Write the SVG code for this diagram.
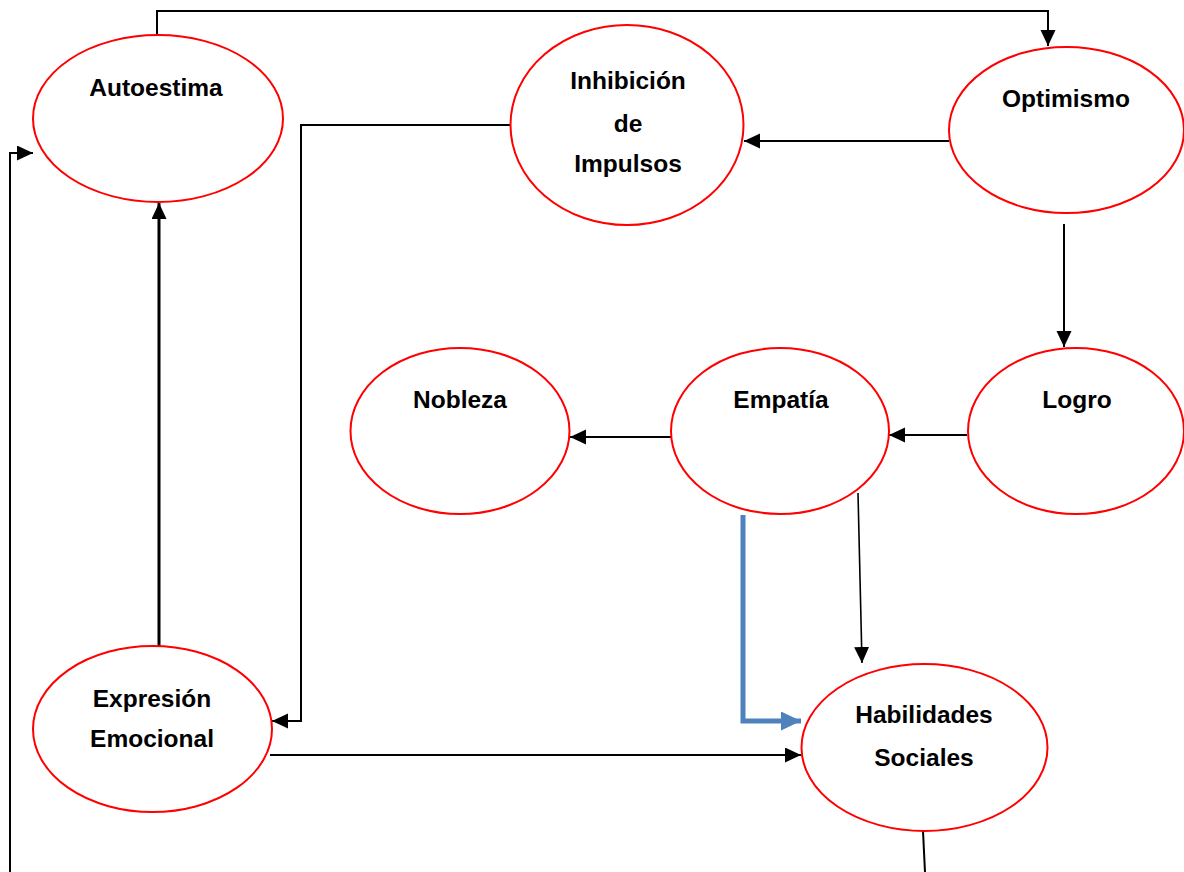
<svg xmlns="http://www.w3.org/2000/svg" width="1184" height="872" viewBox="0 0 1184 872">
<style>
.node ellipse{fill:#fff;stroke:#ff0000;stroke-width:2}
.node text{font-family:"Liberation Sans",Arial,sans-serif;font-weight:bold;font-size:24.5px;fill:#000;text-anchor:middle}
.conn path{fill:none;stroke:#000;stroke-width:2}
.conn path.thin{stroke-width:1.6}
.conn path.thick{stroke-width:3}
.conn path.blue{stroke:#4f81bd;stroke-width:5}
</style>
<defs>
<marker id="ah" markerUnits="userSpaceOnUse" markerWidth="16" markerHeight="16" viewBox="0 0 16 16" refX="16" refY="7.5" orient="auto">
<path d="M0,0 L16,7.5 L0,15 z" fill="#000"/>
</marker>
<marker id="ahb" markerUnits="userSpaceOnUse" markerWidth="20" markerHeight="20" viewBox="0 0 20 20" refX="20" refY="9.5" orient="auto">
<path d="M0,0 L20,9.5 L0,19 z" fill="#4f81bd"/>
</marker>
</defs>
<rect width="1184" height="872" fill="#fff"/>
<g id="connectors" class="conn">
<path d="M157,35 V11 H1048 V46" marker-end="url(#ah)"/>
<path d="M949,141 H744" marker-end="url(#ah)"/>
<path d="M511,125 H301 V721 H272" marker-end="url(#ah)"/>
<path d="M1064,224 V347" marker-end="url(#ah)"/>
<path d="M967,435 H889" marker-end="url(#ah)"/>
<path d="M671,437 H570" marker-end="url(#ah)"/>
<path class="thin" d="M858,493 L862,663" marker-end="url(#ah)"/>
<path class="blue" d="M743,515 V721 H801" marker-end="url(#ahb)"/>
<path d="M270,755 H801" marker-end="url(#ah)"/>
<path class="thick" d="M159,646 V203" marker-end="url(#ah)"/>
<path d="M923,831 L925,872"/>
<path d="M10,872 V153 H33" marker-end="url(#ah)"/>
</g>
<g id="autoestima" class="node">
<ellipse cx="158" cy="118.5" rx="125" ry="83.5"/>
<text x="156" y="96">Autoestima</text>
</g>
<g id="inhibicion" class="node">
<ellipse cx="627" cy="125" rx="116.5" ry="100"/>
<text x="628" y="89">Inhibición</text>
<text x="628" y="132">de</text>
<text x="628" y="172">Impulsos</text>
</g>
<g id="optimismo" class="node">
<ellipse cx="1066.5" cy="130" rx="117.5" ry="83"/>
<text x="1066" y="107">Optimismo</text>
</g>
<g id="nobleza" class="node">
<ellipse cx="460" cy="431" rx="109.5" ry="83"/>
<text x="460" y="408">Nobleza</text>
</g>
<g id="empatia" class="node">
<ellipse cx="780" cy="431" rx="109" ry="83"/>
<text x="781" y="408">Empatía</text>
</g>
<g id="logro" class="node">
<ellipse cx="1076" cy="431" rx="108" ry="83"/>
<text x="1077" y="408">Logro</text>
</g>
<g id="expresion" class="node">
<ellipse cx="152.5" cy="729" rx="119.5" ry="83"/>
<text x="152" y="707">Expresión</text>
<text x="152" y="747">Emocional</text>
</g>
<g id="habilidades" class="node">
<ellipse cx="924.5" cy="747.5" rx="123" ry="83.5"/>
<text x="924" y="723">Habilidades</text>
<text x="924" y="766">Sociales</text>
</g>
</svg>
